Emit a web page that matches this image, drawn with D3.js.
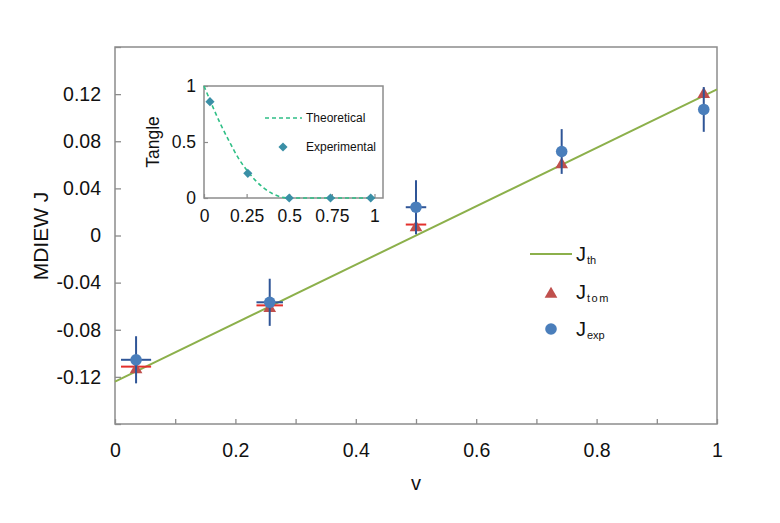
<!DOCTYPE html>
<html>
<head>
<meta charset="utf-8">
<script src="https://cdn.jsdelivr.net/npm/d3@7"></script>
<style>
  body { margin: 0; background: #fff; }
  svg { font-family: "Liberation Sans", Arial, sans-serif; }
</style>
</head>
<body>
<svg id="Target" width="780" height="523"></svg>
<script>
// main panel data
const vValues = [0.035, 0.257, 0.5, 0.742, 0.978];
const jExp = [-0.1055, -0.0567, 0.024, 0.0713, 0.107];
const jExpErr = [0.02, 0.02, 0.023, 0.019, 0.019];
const vErr = [0.025, 0.022, 0.017, 0, 0];
const jTom = [-0.113, -0.061, 0.0076, 0.061, 0.1207];
const jTh = [[0, -0.124], [1, 0.124]];

const xTicks = [0, 0.1, 0.2, 0.3, 0.4, 0.5, 0.6, 0.7, 0.8, 0.9, 1];
const xTickLabels = [0, 0.2, 0.4, 0.6, 0.8, 1];
const yTicks = [-0.16, -0.12, -0.08, -0.04, 0, 0.04, 0.08, 0.12, 0.16];
const yTickLabels = [-0.12, -0.08, -0.04, 0, 0.04, 0.08, 0.12];

// inset data
const tangleTheoryV = [0, 0.05, 0.1, 0.15, 0.2, 0.25, 0.3, 0.35, 0.4, 0.45, 0.5, 0.75, 1];
const tangleTheory = [1, 0.82, 0.65, 0.5, 0.36, 0.25, 0.16, 0.09, 0.04, 0.01, 0, 0, 0];
const tangleExpV = [0.035, 0.257, 0.5, 0.742, 0.978];
const tangleExp = [0.86, 0.22, 0, 0, 0];
const insetXTicks = [0, 0.25, 0.5, 0.75, 1];
const insetYTicks = [0, 0.5, 1];

const svg = d3.select("#Target");
const gray = "#8c8c8c";
const fmt = d => d3.format("~g")(d).replace("\u2212", "-");
const isLabel = (list, d) => list.some(t => Math.abs(t - d) < 1e-9);

const x = d3.scaleLinear().domain([0, 1]).range([115, 717]);
const y = d3.scaleLinear().domain([-0.16, 0.16]).range([424, 47]);

// frame
svg.append("rect")
    .attr("x", 115).attr("y", 47)
    .attr("width", 602).attr("height", 377)
    .attr("fill", "none").attr("stroke", gray).attr("stroke-width", 1.5);

// x axis, ticks pointing inward
const xAxis = svg.append("g")
    .attr("transform", "translate(0,424)")
    .call(d3.axisBottom(x).tickValues(xTicks).tickSize(-5)
        .tickFormat(d => isLabel(xTickLabels, d) ? fmt(d) : ""));
xAxis.select(".domain").remove();
xAxis.selectAll(".tick line").attr("stroke", gray).attr("stroke-width", 1.3);
xAxis.selectAll(".tick text")
    .attr("y", 19).attr("font-size", 19.5).attr("fill", "#111")
    .attr("font-family", "Liberation Sans, Arial, sans-serif");

const yAxis = svg.append("g")
    .attr("transform", "translate(115,0)")
    .call(d3.axisLeft(y).tickValues(yTicks).tickSize(-6)
        .tickFormat(d => isLabel(yTickLabels, d) ? fmt(d) : ""));
yAxis.select(".domain").remove();
yAxis.selectAll(".tick line").attr("stroke", gray).attr("stroke-width", 1.3);
yAxis.selectAll(".tick text")
    .attr("x", -14).attr("font-size", 19.5).attr("fill", "#111")
    .attr("font-family", "Liberation Sans, Arial, sans-serif");

// axis titles
svg.append("text")
    .attr("x", 416).attr("y", 490)
    .attr("text-anchor", "middle").attr("font-size", 20).attr("fill", "#111")
    .text("v");
svg.append("text")
    .attr("transform", "translate(48,236) rotate(-90)")
    .attr("text-anchor", "middle").attr("font-size", 21).attr("fill", "#111")
    .text("MDIEW J");

// theory line
const line = d3.line().x(d => x(d[0])).y(d => y(d[1]));
svg.append("path")
    .datum(jTh)
    .attr("d", line)
    .attr("fill", "none").attr("stroke", "#8cb04b").attr("stroke-width", 2);

const pts = vValues.map((v, i) => ({v, exp: jExp[i], err: jExpErr[i], verr: vErr[i], tom: jTom[i]}));

// tomography: red horizontal bars + triangles
const tri = d3.symbol().type(d3.symbolTriangle).size(70);
svg.selectAll(".tomBar")
    .data(pts.filter(d => d.verr > 0))
    .join("line")
    .attr("x1", d => x(d.v - d.verr)).attr("x2", d => x(d.v + d.verr))
    .attr("y1", d => y(d.tom) - 2).attr("y2", d => y(d.tom) - 2)
    .attr("stroke", "#e3302c").attr("stroke-width", 2);
svg.selectAll(".tom")
    .data(pts)
    .join("path")
    .attr("d", tri)
    .attr("transform", d => `translate(${x(d.v)},${y(d.tom) + 1})`)
    .attr("fill", "#c0504d");

// experimental: blue error bars + circles
const bars = svg.append("g").attr("stroke", "#2f5597").attr("stroke-width", 2);
bars.selectAll(".vbar")
    .data(pts)
    .join("line")
    .attr("x1", d => x(d.v)).attr("x2", d => x(d.v))
    .attr("y1", d => y(d.exp - d.err)).attr("y2", d => y(d.exp + d.err));
bars.selectAll(".hbar")
    .data(pts.filter(d => d.verr > 0))
    .join("line")
    .attr("x1", d => x(d.v - d.verr)).attr("x2", d => x(d.v + d.verr))
    .attr("y1", d => y(d.exp)).attr("y2", d => y(d.exp));
svg.selectAll(".exp")
    .data(pts)
    .join("circle")
    .attr("cx", d => x(d.v)).attr("cy", d => y(d.exp))
    .attr("r", 5.8)
    .attr("fill", "#4a7ebb");

// legend
const legend = svg.append("g").attr("font-size", 20).attr("fill", "#111");
legend.append("line")
    .attr("x1", 530).attr("x2", 572).attr("y1", 254).attr("y2", 254)
    .attr("stroke", "#8cb04b").attr("stroke-width", 2);
legend.append("path").attr("d", tri).attr("transform", "translate(551,294)").attr("fill", "#c0504d");
legend.append("circle").attr("cx", 551).attr("cy", 329).attr("r", 5.8).attr("fill", "#4a7ebb");
const legItems = [["th", 261], ["tom", 299], ["exp", 336]];
legItems.forEach(([sub, yy]) => {
    const t = legend.append("text").attr("x", 576).attr("y", yy);
    t.append("tspan").text("J");
    t.append("tspan").attr("font-size", 11).attr("dy", 3).attr("dx", 1)
        .attr("letter-spacing", sub === "tom" ? 1.5 : 0).text(sub);
});

// inset
const ix = d3.scaleLinear().domain([0, 1.05]).range([204, 383]);
const iy = d3.scaleLinear().domain([0, 1]).range([198, 86]);

svg.append("rect")
    .attr("x", 204).attr("y", 86).attr("width", 179).attr("height", 112)
    .attr("fill", "none").attr("stroke", gray).attr("stroke-width", 1.5);

const ixAxis = svg.append("g")
    .attr("transform", "translate(0,198)")
    .call(d3.axisBottom(ix).tickValues(insetXTicks).tickSize(-4).tickFormat(fmt));
ixAxis.select(".domain").remove();
ixAxis.selectAll(".tick line").attr("stroke", gray).attr("stroke-width", 1.2);
ixAxis.selectAll(".tick text").attr("y", 12).attr("font-size", 17.5).attr("fill", "#111")
    .attr("font-family", "Liberation Sans, Arial, sans-serif");

const iyAxis = svg.append("g")
    .attr("transform", "translate(204,0)")
    .call(d3.axisLeft(iy).tickValues(insetYTicks).tickSize(-4).tickFormat(fmt));
iyAxis.select(".domain").remove();
iyAxis.selectAll(".tick line").attr("stroke", gray).attr("stroke-width", 1.2);
iyAxis.selectAll(".tick text").attr("x", -8).attr("font-size", 17.5).attr("fill", "#111")
    .attr("font-family", "Liberation Sans, Arial, sans-serif");

svg.append("text")
    .attr("transform", "translate(159,142) rotate(-90)")
    .attr("text-anchor", "middle").attr("font-size", 17.5).attr("fill", "#111")
    .text("Tangle");

const theory = tangleTheoryV.map((v, i) => [v, tangleTheory[i]]);
svg.append("path")
    .datum(theory)
    .attr("d", d3.line().x(d => ix(d[0])).y(d => iy(d[1])).curve(d3.curveMonotoneX))
    .attr("fill", "none").attr("stroke", "#2fbf86").attr("stroke-width", 1.6)
    .attr("stroke-dasharray", "4,3");

// diamonds: squares turned 45 degrees
const diamond = d3.symbol().type(d3.symbolSquare).size(42);
svg.selectAll(".texp")
    .data(tangleExpV.map((v, i) => [v, tangleExp[i]]))
    .join("path")
    .attr("d", diamond)
    .attr("transform", d => `translate(${ix(d[0])},${iy(d[1])}) rotate(45)`)
    .attr("fill", "#3a8fa6");

// inset legend
svg.append("line")
    .attr("x1", 265).attr("x2", 302).attr("y1", 118).attr("y2", 118)
    .attr("stroke", "#2fbf86").attr("stroke-width", 1.6).attr("stroke-dasharray", "4,3");
svg.append("text").attr("x", 306).attr("y", 122).attr("font-size", 12).attr("fill", "#111").text("Theoretical");
svg.append("path").attr("d", diamond).attr("transform", "translate(283,147) rotate(45)").attr("fill", "#3a8fa6");
svg.append("text").attr("x", 306).attr("y", 151).attr("font-size", 12).attr("fill", "#111").text("Experimental");
</script>
</body>
</html>
